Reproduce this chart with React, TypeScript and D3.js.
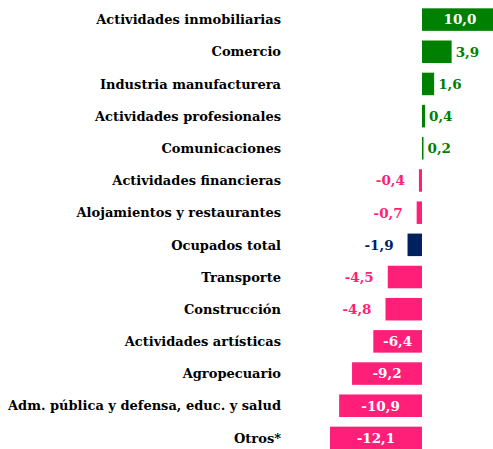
import React from "react";
import * as d3 from "d3";

const categories = [
  "Actividades inmobiliarias",
  "Comercio",
  "Industria manufacturera",
  "Actividades profesionales",
  "Comunicaciones",
  "Actividades financieras",
  "Alojamientos y restaurantes",
  "Ocupados total",
  "Transporte",
  "Construcción",
  "Actividades artísticas",
  "Agropecuario",
  "Adm. pública y defensa, educ. y salud",
  "Otros*",
];
const values = [10.0, 3.9, 1.6, 0.4, 0.2, -0.4, -0.7, -1.9, -4.5, -4.8, -6.4, -9.2, -10.9, -12.1];
const totalCategory = "Ocupados total";

const W = 493;
const H = 449;
const GREEN = "#008000";
const PINK = "#FF1F78";
const NAVY = "#002060";
const FONT = "'DejaVu Serif', serif";

export default function App() {
  const x = d3.scaleLinear().domain([-12.1, 10]).range([330, 498]);
  const y = d3.scaleBand<string>().domain(categories).range([3.5, 454]).paddingInner(0.3).paddingOuter(0.15);
  const fmt = (v: number) => d3.format(".1f")(v).replace(".", ",").replace("\u2212", "-");
  const labelX = 281;
  return (
    <svg width={W} height={H} style={{ position: "absolute", left: 0, top: 0, background: "#fff" }}>
      {categories.map((c, i) => {
        const v = values[i];
        const color = c === totalCategory ? NAVY : v >= 0 ? GREEN : PINK;
        const x0 = x(Math.min(0, v));
        const x1 = x(Math.max(0, v));
        const bw = x1 - x0;
        const yc = (y(c) as number) + y.bandwidth() / 2;
        const inside = Math.abs(v) >= 6;
        let tx: number;
        let anchor: string;
        let fill: string;
        if (inside) {
          tx = (x0 + x1) / 2;
          anchor = "middle";
          fill = "#fff";
        } else if (v >= 0) {
          tx = x1 + 4;
          anchor = "start";
          fill = color;
        } else {
          tx = x0 - 14;
          anchor = "end";
          fill = color;
        }
        return (
          <g key={c}>
            <text x={labelX} y={yc} dy="0.36em" textAnchor="end" fontFamily={FONT} fontWeight="bold" fontSize={13} fill="#000">
              {c}
            </text>
            <rect x={x0} y={y(c)} width={bw} height={y.bandwidth()} fill={color} />
            <text x={tx} y={yc} dy="0.36em" textAnchor={anchor} fontFamily={FONT} fontWeight="bold" fontSize={13.5} fill={fill}>
              {fmt(v)}
            </text>
          </g>
        );
      })}
    </svg>
  );
}
